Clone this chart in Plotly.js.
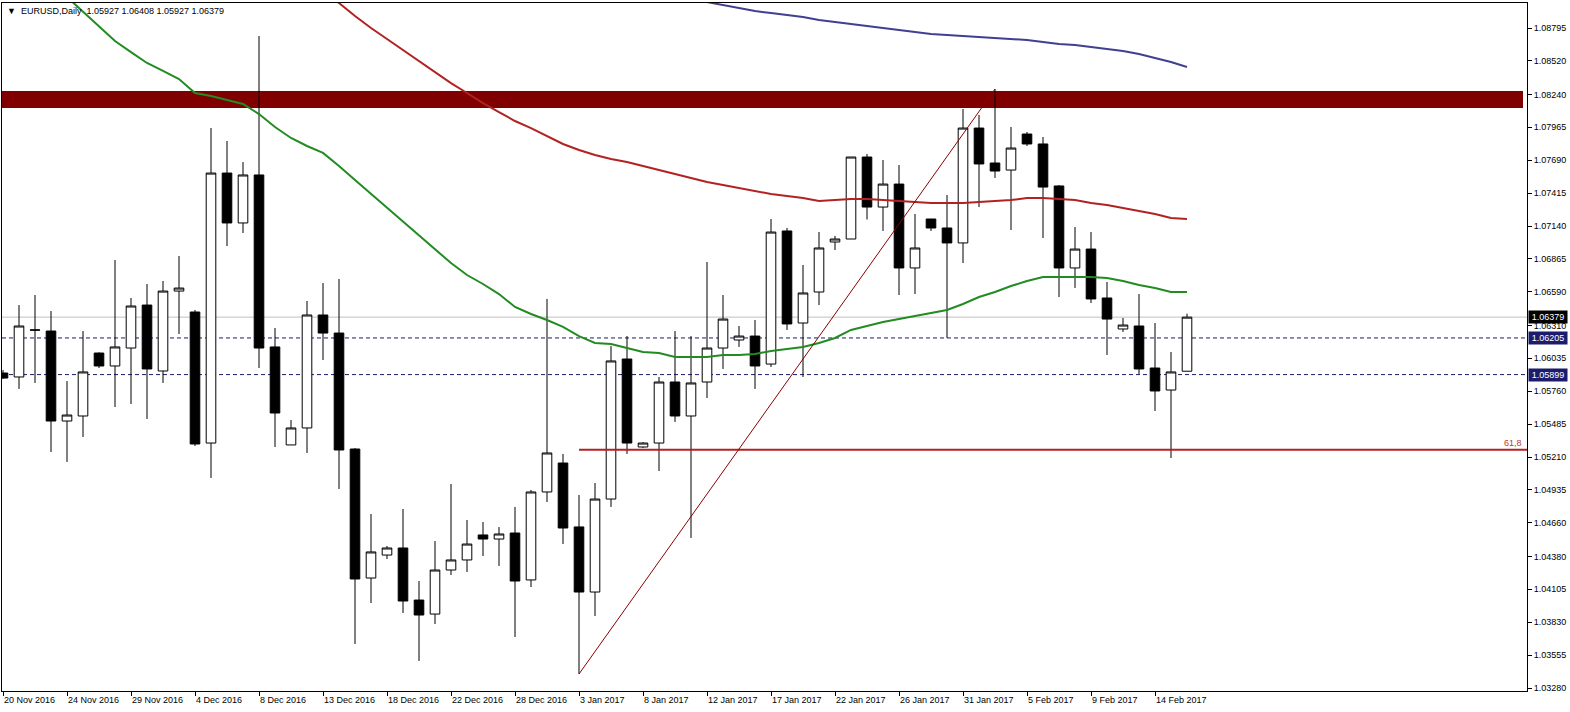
<!DOCTYPE html>
<html>
<head>
<meta charset="utf-8">
<script src="https://cdn.plot.ly/plotly-3.0.1.min.js"></script>
<style>
html,body{margin:0;padding:0;background:#fff;}
#chart{width:1570px;height:712px;}
</style>
</head>
<body>
<div id="chart"></div>
<script>
// ---- Data (EURUSD, Daily) ----
const dates = [
 "20 Nov 2016","21 Nov 2016","22 Nov 2016","23 Nov 2016","24 Nov 2016","25 Nov 2016","27 Nov 2016","28 Nov 2016","29 Nov 2016","30 Nov 2016",
 "1 Dec 2016","2 Dec 2016","4 Dec 2016","5 Dec 2016","6 Dec 2016","7 Dec 2016","8 Dec 2016","9 Dec 2016","11 Dec 2016","12 Dec 2016",
 "13 Dec 2016","14 Dec 2016","15 Dec 2016","16 Dec 2016","18 Dec 2016","19 Dec 2016","20 Dec 2016","21 Dec 2016","22 Dec 2016","23 Dec 2016",
 "26 Dec 2016","27 Dec 2016","28 Dec 2016","29 Dec 2016","30 Dec 2016","2 Jan 2017","3 Jan 2017","4 Jan 2017","5 Jan 2017","6 Jan 2017",
 "8 Jan 2017","9 Jan 2017","10 Jan 2017","11 Jan 2017","12 Jan 2017","13 Jan 2017","15 Jan 2017","16 Jan 2017","17 Jan 2017","18 Jan 2017",
 "19 Jan 2017","20 Jan 2017","22 Jan 2017","23 Jan 2017","24 Jan 2017","25 Jan 2017","26 Jan 2017","27 Jan 2017","29 Jan 2017","30 Jan 2017",
 "31 Jan 2017","1 Feb 2017","2 Feb 2017","3 Feb 2017","5 Feb 2017","6 Feb 2017","7 Feb 2017","8 Feb 2017","9 Feb 2017","10 Feb 2017",
 "12 Feb 2017","13 Feb 2017","14 Feb 2017","15 Feb 2017","16 Feb 2017"
];
const open = [
 1.05912,1.05879,1.06270,1.06263,1.05511,1.05553,1.06079,1.05971,1.06121,1.06480,
 1.05929,1.06597,1.06422,1.05327,1.07583,1.07166,1.07567,1.06130,1.05311,1.05453,
 1.06397,1.06246,1.05277,1.04199,1.04391,1.04450,1.04015,1.03898,1.04266,1.04350,
 1.04559,1.04525,1.04575,1.04183,1.04918,1.05160,1.04626,1.04082,1.04859,1.06029,
 1.05294,1.05327,1.05837,1.05553,1.05837,1.06121,1.06188,1.06221,1.05987,1.07099,
 1.06330,1.06589,1.07007,1.07032,1.07717,1.07299,1.07491,1.06790,1.07199,1.07124,
 1.06999,1.07959,1.07667,1.07608,1.07909,1.07826,1.07475,1.06790,1.06948,1.06539,
 1.06280,1.06305,1.05954,1.05770,1.05927
];
const high = [
 1.05937,1.06480,1.06564,1.06430,1.05845,1.06263,1.06085,1.06856,1.06539,1.06656,
 1.06681,1.06890,1.06439,1.07959,1.07851,1.07675,1.08728,1.06288,1.05519,1.06514,
 1.06664,1.06698,1.05285,1.04734,1.04467,1.04776,1.04174,1.04508,1.04985,1.04684,
 1.04667,1.04625,1.04793,1.04935,1.06531,1.05236,1.04893,1.04993,1.06138,1.06221,
 1.05335,1.05879,1.06263,1.06221,1.06840,1.06564,1.06305,1.06355,1.07199,1.07124,
 1.06815,1.07090,1.07057,1.07717,1.07742,1.07692,1.07650,1.07241,1.07199,1.07400,
 1.08118,1.08068,1.08285,1.07968,1.07926,1.07884,1.07483,1.07132,1.07090,1.06673,
 1.06372,1.06572,1.06330,1.06088,1.06408
];
const low = [
 1.05862,1.05779,1.05829,1.05252,1.05169,1.05377,1.05954,1.05628,1.05653,1.05528,
 1.05829,1.06238,1.05302,1.05035,1.06973,1.07082,1.05954,1.05294,1.05311,1.05244,
 1.06021,1.04943,1.03648,1.03990,1.04358,1.03907,1.03506,1.03815,1.04224,1.04249,
 1.04383,1.04300,1.03706,1.04124,1.04834,1.04483,1.03397,1.03882,1.04793,1.05236,
 1.05286,1.05093,1.05503,1.04534,1.05703,1.05946,1.06130,1.05779,1.05962,1.06272,
 1.05879,1.06480,1.06940,1.07032,1.07195,1.07099,1.06564,1.06572,1.07099,1.06205,
 1.06831,1.07299,1.07542,1.07107,1.07809,1.07040,1.06547,1.06623,1.06497,1.06063,
 1.06255,1.05904,1.05595,1.05202,1.05927
];
const close = [
 1.05870,1.06305,1.06272,1.05511,1.05561,1.05921,1.05971,1.06130,1.06472,1.05946,
 1.06597,1.06622,1.05319,1.07583,1.07166,1.07567,1.06121,1.05578,1.05453,1.06397,
 1.06246,1.05269,1.04191,1.04417,1.04450,1.04007,1.03890,1.04266,1.04350,1.04483,
 1.04525,1.04567,1.04174,1.04918,1.05244,1.04617,1.04082,1.04859,1.06013,1.05327,
 1.05327,1.05837,1.05553,1.05829,1.06121,1.06363,1.06221,1.05971,1.07090,1.06322,
 1.06581,1.06957,1.07032,1.07717,1.07299,1.07491,1.06790,1.06957,1.07124,1.06999,
 1.07959,1.07659,1.07600,1.07792,1.07826,1.07466,1.06790,1.06948,1.06531,1.06363,
 1.06313,1.05946,1.05762,1.05921,1.06379
];
// Moving averages (null = not shown / off-chart history)
const maGreen = [
 null,null,null,null,1.09054,1.08929,1.08803,1.08686,1.08594,1.08503,
 1.08436,1.08369,1.08252,1.08227,1.08193,1.08160,1.08076,1.07968,1.07876,1.07809,
 1.07751,1.07642,1.07525,1.07408,1.07299,1.07174,1.07057,1.06940,1.06831,1.06731,
 1.06656,1.06572,1.06464,1.06405,1.06355,1.06297,1.06221,1.06163,1.06155,1.06121,
 1.06088,1.06079,1.06046,1.06046,1.06046,1.06063,1.06063,1.06071,1.06096,1.06113,
 1.06130,1.06163,1.06205,1.06272,1.06305,1.06339,1.06364,1.06389,1.06414,1.06439,
 1.06489,1.06547,1.06589,1.06639,1.06681,1.06714,1.06714,1.06714,1.06714,1.06706,
 1.06681,1.06648,1.06622,1.06589,1.06589
];
const maRed = [
 null,null,null,null,null,null,null,null,null,null,
 null,null,null,null,null,null,null,null,null,null,
 1.09096,1.09004,1.08895,1.08795,1.08703,1.08611,1.08519,1.08427,1.08335,1.08252,
 1.08168,1.08093,1.08018,1.07959,1.07893,1.07826,1.07776,1.07734,1.07700,1.07675,
 1.07642,1.07608,1.07575,1.07542,1.07508,1.07483,1.07458,1.07433,1.07408,1.07391,
 1.07374,1.07349,1.07358,1.07366,1.07366,1.07358,1.07349,1.07341,1.07333,1.07333,
 1.07333,1.07341,1.07349,1.07358,1.07374,1.07374,1.07366,1.07358,1.07333,1.07316,
 1.07291,1.07266,1.07240,1.07207,1.07199
];
const maBlue = [
 null,null,null,null,null,null,null,null,null,null,
 null,null,null,null,null,null,null,null,null,null,
 null,null,null,null,null,null,null,null,null,null,
 null,null,null,null,null,null,null,null,null,null,
 null,null,null,1.09037,1.09012,1.08987,1.08962,1.08937,1.08920,1.08904,
 1.08887,1.08862,1.08845,1.08828,1.08812,1.08795,1.08778,1.08762,1.08745,1.08737,
 1.08728,1.08720,1.08711,1.08703,1.08695,1.08678,1.08661,1.08653,1.08636,1.08620,
 1.08603,1.08578,1.08544,1.08511,1.08469
];
// Y axis tick labels
const yTicks = [1.03280,1.03555,1.03830,1.04105,1.04380,1.04660,1.04935,1.05210,1.05485,1.05760,
 1.06035,1.06310,1.06590,1.06865,1.07140,1.07415,1.07690,1.07965,1.08240,1.08520,1.08795];
// Chart objects (price levels)
const zone = [1.08127, 1.08269];          // resistance zone
const bidLevel = [1.06379];               // current price line
const dashedLevels = [1.06205, 1.05899];  // horizontal dashed lines
const fibAnchor = [36, 1.03397, 62, 1.08285]; // fib from low bar -> high bar
const fibLevel = [1.0527];                // 61.8 retracement
const fibLabel = ["61,8"];
const titleText = ["EURUSD,Daily", "1.05927 1.06408 1.05927 1.06379"];

const idx = dates.map((d, i) => i);
const tickIdx = idx.filter(i => i % 4 === 0);
const tickTxt = tickIdx.map(i => dates[i]);

const FONT = "Liberation Sans, Arial, sans-serif";

const traces = [
 {
  type: "candlestick", x: idx, open: open, high: high, low: low, close: close,
  increasing: {line: {color: "#000000", width: 1}, fillcolor: "#ffffff"},
  decreasing: {line: {color: "#000000", width: 1}, fillcolor: "#000000"},
  whiskerwidth: 0, showlegend: false, hoverinfo: "skip"
 },
 {type: "scatter", mode: "lines", x: idx, y: maBlue, line: {color: "#3f3f93", width: 2}, showlegend: false, hoverinfo: "skip"},
 {type: "scatter", mode: "lines", x: idx, y: maRed, line: {color: "#b22222", width: 2}, showlegend: false, hoverinfo: "skip"},
 {type: "scatter", mode: "lines", x: idx, y: maGreen, line: {color: "#228b22", width: 2}, showlegend: false, hoverinfo: "skip"}
];

const xMax = 95.25;
const shapes = [
 {type: "rect", xref: "x", yref: "y", x0: -2, x1: 95.0, y0: zone[0], y1: zone[1], fillcolor: "#800000", line: {width: 0}, layer: "below"},
 {type: "line", xref: "paper", yref: "y", x0: 0, x1: 1, y0: bidLevel[0], y1: bidLevel[0], line: {color: "#c0c0c0", width: 1}, layer: "below"},
 ...dashedLevels.map(v => ({type: "line", xref: "paper", yref: "y", x0: 0, x1: 1, y0: v, y1: v, line: {color: "#1c1c6c", width: 1, dash: "4px,3px"}, layer: "below"})),
 {type: "line", xref: "x", yref: "y", x0: fibAnchor[0], x1: xMax, y0: fibLevel[0], y1: fibLevel[0], line: {color: "#b22222", width: 2}, layer: "above"},
 {type: "line", xref: "x", yref: "y", x0: fibAnchor[0], y0: fibAnchor[1], x1: fibAnchor[2], y1: fibAnchor[3], line: {color: "#8b0000", width: 1}, layer: "above"}
];

const annotations = [
 {xref: "paper", yref: "paper", x: 0, y: 1, xanchor: "left", yanchor: "top", xshift: 3, yshift: -1,
  text: "▼  " + titleText[0] + "  " + titleText[1], showarrow: false, font: {family: FONT, size: 9, color: "#000"}},
 {xref: "x", yref: "y", x: xMax, y: fibLevel[0], xanchor: "right", yanchor: "bottom", xshift: -3, yshift: 0,
  text: fibLabel[0], showarrow: false, font: {family: FONT, size: 9, color: "#c0392b"}},
 {xref: "paper", yref: "y", x: 1, y: bidLevel[0], xanchor: "left", yanchor: "middle", xshift: 1,
  width: 36, height: 10, align: "center",
  text: bidLevel[0].toFixed(5), showarrow: false, bgcolor: "#000000", borderpad: 1, font: {family: FONT, size: 9, color: "#ffffff"}},
 ...dashedLevels.map(v => ({xref: "paper", yref: "y", x: 1, y: v, xanchor: "left", yanchor: "middle", xshift: 1,
  width: 36, height: 10, align: "center",
  text: v.toFixed(5), showarrow: false, bgcolor: "#1c1c6c", borderpad: 1, font: {family: FONT, size: 9, color: "#ffffff"}}))
];

const layout = {
 width: 1570, height: 712,
 margin: {l: 2, r: 43, t: 3, b: 21, pad: 0},
 paper_bgcolor: "#ffffff", plot_bgcolor: "#ffffff",
 showlegend: false,
 boxgap: 0.4, boxgroupgap: 0,
 font: {family: FONT, size: 9, color: "#000"},
 xaxis: {
  range: [-0.0625, xMax], showgrid: false, zeroline: false,
  showline: true, mirror: true, linecolor: "#000", linewidth: 1,
  ticks: "outside", ticklen: 4, tickcolor: "#000", tickwidth: 1,
  tickmode: "array", tickvals: tickIdx, ticktext: tickTxt,
  ticklabelposition: "outside right",
  tickfont: {family: FONT, size: 9, color: "#000"},
  rangeslider: {visible: false}, fixedrange: true
 },
 yaxis: {
  side: "right", range: [1.03255, 1.09004], showgrid: false, zeroline: false,
  showline: true, mirror: true, linecolor: "#000", linewidth: 1,
  ticks: "outside", ticklen: 4, tickcolor: "#000", tickwidth: 1,
  tickmode: "array", tickvals: yTicks, ticktext: yTicks.map(v => v.toFixed(5)),
  tickfont: {family: FONT, size: 9, color: "#000"}, fixedrange: true
 },
 shapes: shapes,
 annotations: annotations
};

Plotly.newPlot("chart", traces, layout, {displayModeBar: false, staticPlot: true});
</script>
</body>
</html>
